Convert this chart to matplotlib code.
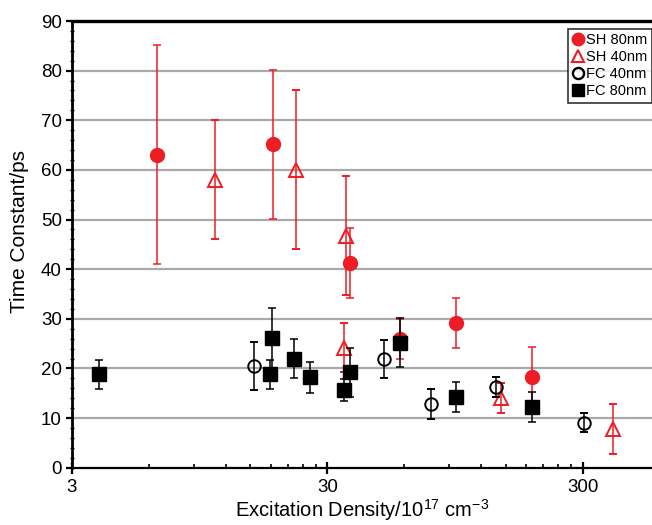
import matplotlib
matplotlib.use("Agg")
import matplotlib.pyplot as plt
from matplotlib.lines import Line2D
from matplotlib.ticker import FixedLocator, FixedFormatter, NullFormatter

plt.rcParams["font.family"] = ["Liberation Sans", "DejaVu Sans"]
plt.rcParams["mathtext.fontset"] = "custom"
plt.rcParams["mathtext.rm"] = "Liberation Sans"

# Surface-hole (SH) and free-carrier (FC) time constants vs excitation density
sh80_x = [6.45, 18.4, 36.7, 57.6, 96, 190]
sh80_y = [63.1, 65.2, 41.2, 26.0, 29.1, 18.3]
sh80_err = [22, 15, 7, 4, 5, 6]

sh40_x = [10.9, 22.6, 35.4, 34.9, 144, 392]
sh40_y = [58.0, 60.0, 46.7, 24.2, 14.0, 7.8]
sh40_err = [12, 16, 12, 5, 3, 5.1]

fc40_x = [15.5, 50.0, 76.4, 136.8, 303]
fc40_y = [20.5, 21.9, 12.8, 16.3, 9.1]
fc40_err = [4.9, 3.9, 3.0, 2.0, 2.0]

fc80_x = [3.82, 17.9, 18.3, 22.2, 25.6, 35.0, 36.7, 57.6, 96, 190]
fc80_y = [18.8, 18.8, 26.1, 22.0, 18.2, 15.7, 19.2, 25.2, 14.3, 12.3]
fc80_err = [2.9, 2.9, 6.0, 4.0, 3.1, 2.2, 5.0, 4.9, 3.0, 3.0]

x_major = [3, 30, 300]
x_labels = ["3", "30", "300"]
y_major = list(range(0, 91, 10))

RED = "#ee1c24"

fig = plt.figure(figsize=(6.52, 5.25), dpi=100)
ax = fig.add_axes([0.110, 0.1091, 0.890, 0.8509])

ax.set_xscale("log")
ax.set_xlim(3, 559)
ax.set_ylim(0, 90)

# horizontal grid
for yv in y_major[1:-1]:
    ax.axhline(yv, color="#a9a9a9", lw=1.6, zorder=0)

eb = dict(capsize=3, elinewidth=1.1, capthick=1.1, linestyle="none")

ax.errorbar(sh80_x, sh80_y, yerr=sh80_err, marker="o", ms=10, mfc=RED, mec=RED,
            ecolor=RED, zorder=3, **eb)
ax.errorbar(sh40_x, sh40_y, yerr=sh40_err, marker="^", ms=10, mfc="none", mec=RED,
            mew=1.4, ecolor=RED, zorder=3, **eb)
ax.errorbar(fc40_x, fc40_y, yerr=fc40_err, marker="o", ms=9, mfc="none", mec="black",
            mew=1.4, ecolor="black", zorder=4, **eb)
ax.errorbar(fc80_x, fc80_y, yerr=fc80_err, marker="s", ms=10, mfc="black", mec="black",
            ecolor="black", zorder=4, **eb)

# axes styling
ax.spines["right"].set_visible(False)
ax.spines["top"].set_linewidth(2.4)
ax.spines["left"].set_linewidth(2.0)
ax.spines["bottom"].set_linewidth(1.6)

ax.xaxis.set_major_locator(FixedLocator(x_major))
ax.xaxis.set_major_formatter(FixedFormatter(x_labels))
x_minor = [m * k for m in x_major for k in range(2, 10)]
ax.xaxis.set_minor_locator(FixedLocator(x_minor))
ax.xaxis.set_minor_formatter(NullFormatter())

ax.yaxis.set_major_locator(FixedLocator(y_major))
ax.yaxis.set_minor_locator(FixedLocator([v for v in range(0, 91, 2) if v % 10]))

ax.tick_params(axis="x", which="major", direction="inout", length=8, width=1.6,
               labelsize=13.5, pad=4)
ax.tick_params(axis="x", which="minor", direction="in", length=3, width=1.2)
ax.tick_params(axis="y", which="major", direction="out", length=4, width=1.6,
               labelsize=13.5, pad=3)
ax.tick_params(axis="y", which="minor", direction="inout", length=3, width=1.0)

ax.set_ylabel("Time Constant/ps", fontsize=15)
ax.yaxis.set_label_coords(-0.074, 0.528)
ax.set_xlabel(r"Excitation Density/10$^{\mathregular{17}}$ cm$^{\mathregular{-3}}$",
              fontsize=14.5, labelpad=1)

handles = [
    Line2D([], [], ls="none", marker="o", ms=9, mfc=RED, mec=RED),
    Line2D([], [], ls="none", marker="^", ms=9, mfc="none", mec=RED, mew=1.5),
    Line2D([], [], ls="none", marker="o", ms=8, mfc="none", mec="black", mew=1.7),
    Line2D([], [], ls="none", marker="s", ms=9, mfc="black", mec="black"),
]
labels = ["SH 80nm", "SH 40nm", "FC 40nm", "FC 80nm"]
leg = ax.legend(handles, labels, loc="upper right", bbox_to_anchor=(1.0, 0.982),
                fontsize=10.5, frameon=True, fancybox=False, handlelength=0.8,
                handletextpad=0.15, borderpad=0.3, labelspacing=0.2,
                borderaxespad=0.0)
leg.get_frame().set_edgecolor("black")
leg.get_frame().set_linewidth(1.2)

fig.savefig("out.png", dpi=100)
